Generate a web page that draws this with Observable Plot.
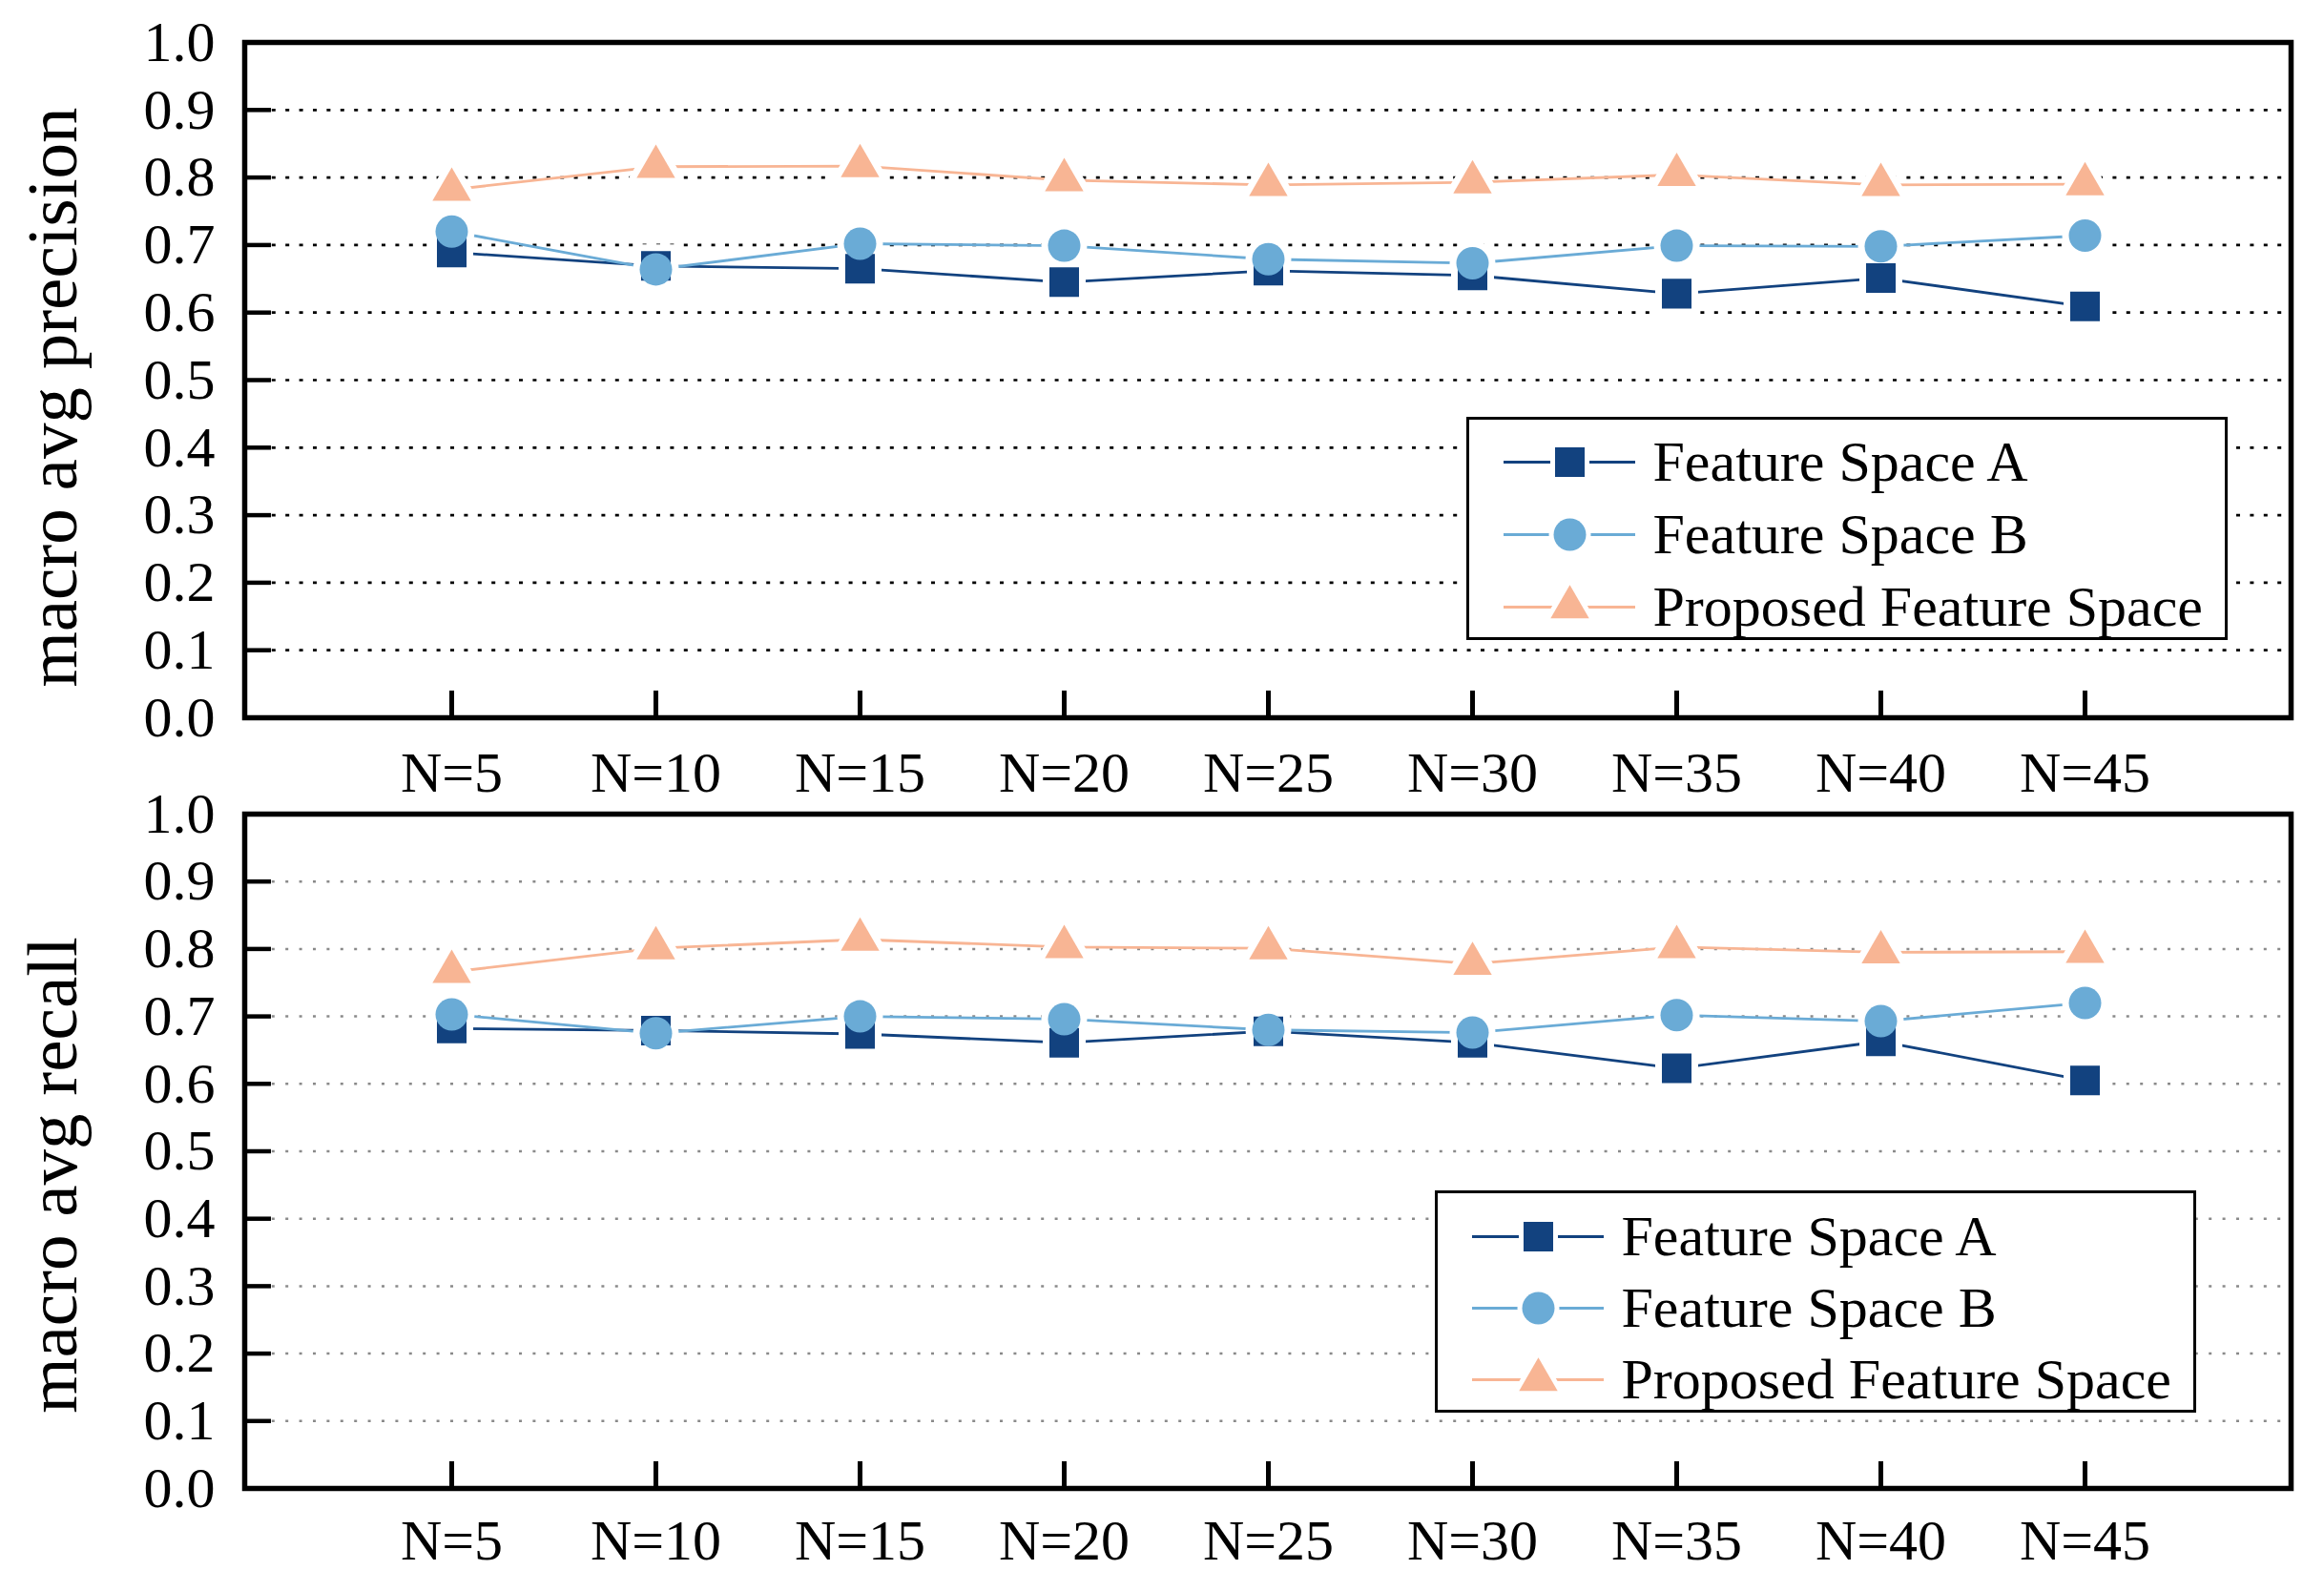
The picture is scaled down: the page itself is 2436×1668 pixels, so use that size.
<!DOCTYPE html>
<html>
<head>
<meta charset="utf-8">
<script src="https://cdn.jsdelivr.net/npm/d3@7"></script>
<script src="https://cdn.jsdelivr.net/npm/@observablehq/plot@0.6"></script>
<style>
html, body { margin: 0; padding: 0; background: #fff; }
#chart { position: relative; width: 2436px; height: 1668px; background: #fff; overflow: hidden;
  font-family: 'Liberation Serif', 'Times New Roman', serif; }
.panel { position: absolute; left: 0; }
.legend { position: absolute; box-sizing: border-box; border: 3px solid #000; background: #fff; }
.panel svg, .legend svg { display: block; }
</style>
</head>
<body>
<div id="chart"></div>
<script>
// ---- data ----
const nLabels = ["N=5", "N=10", "N=15", "N=20", "N=25", "N=30", "N=35", "N=40", "N=45"];
const seriesNames = ["Feature Space A", "Feature Space B", "Proposed Feature Space"];

const precisionA = [0.689, 0.669, 0.665, 0.645, 0.662, 0.655, 0.628, 0.651, 0.609];
const precisionB = [0.720, 0.664, 0.702, 0.699, 0.679, 0.673, 0.699, 0.698, 0.714];
const precisionP = [0.782, 0.816, 0.817, 0.796, 0.789, 0.793, 0.804, 0.789, 0.790];

const recallA = [0.682, 0.679, 0.674, 0.661, 0.678, 0.661, 0.623, 0.663, 0.605];
const recallB = [0.703, 0.675, 0.700, 0.696, 0.680, 0.676, 0.702, 0.693, 0.720];
const recallP = [0.766, 0.801, 0.814, 0.803, 0.801, 0.778, 0.803, 0.795, 0.796];

const yTicks = [0.0, 0.1, 0.2, 0.3, 0.4, 0.5, 0.6, 0.7, 0.8, 0.9, 1.0];
const gridTicks = [0.1, 0.2, 0.3, 0.4, 0.5, 0.6, 0.7, 0.8, 0.9];

// ---- styles ----
const colors = ["#12427f", "#6aabd6", "#f8b594"];
const symbols = ["square", "circle", "triangle"];
const radii = [17.5, 17, 15];
const font = "'Liberation Serif', 'Times New Roman', serif";

const W = 2436, ML = 256, MR = 35;

function panel(cfg) {
  const frameW = W - ML - MR;
  const frameH = cfg.height - cfg.marginTop - cfg.marginBottom;
  const marks = [];
  marks.push(Plot.gridY(gridTicks, {
    stroke: cfg.gridColor, strokeOpacity: 1, strokeWidth: cfg.gridWidth, strokeDasharray: cfg.gridDash
  }));
  cfg.series.forEach((vals, i) => {
    marks.push(Plot.line(vals, {
      x: (d, j) => nLabels[j], y: d => d, stroke: colors[i], strokeWidth: 2.8
    }));
  });
  // white halos leave gaps in the lines around markers
  cfg.series.forEach((vals, i) => {
    marks.push(Plot.dot(vals, {
      x: (d, j) => nLabels[j], y: d => d, symbol: symbols[i], r: radii[i],
      fill: "none", stroke: "#fff", strokeWidth: 14
    }));
  });
  cfg.series.forEach((vals, i) => {
    marks.push(Plot.dot(vals, {
      x: (d, j) => nLabels[j], y: d => d, symbol: symbols[i], r: radii[i],
      fill: colors[i], stroke: "none"
    }));
  });
  // inward ticks
  marks.push(Plot.ruleY(gridTicks, {
    y: d => d, insetRight: frameW - 28, stroke: "#000", strokeWidth: 4.5
  }));
  marks.push(Plot.ruleX(nLabels, {
    x: d => d, insetTop: frameH - 28, stroke: "#000", strokeWidth: 5
  }));
  marks.push(Plot.frame({stroke: "#000", strokeWidth: 5.5}));
  marks.push(Plot.axisY({
    ticks: yTicks, tickSize: 0, tickPadding: 31, fontSize: 60,
    tickFormat: d => d.toFixed(1), label: null
  }));
  marks.push(Plot.axisX({
    tickSize: 0, tickPadding: cfg.xPad, fontSize: 60, label: null
  }));
  marks.push(Plot.text([cfg.label], {
    text: d => d, frameAnchor: "left", rotate: -90, dx: -177, dy: cfg.labelDy,
    fontSize: 75, lineAnchor: "bottom", textAnchor: "middle"
  }));
  return Plot.plot({
    width: W, height: cfg.height,
    marginLeft: ML, marginRight: MR, marginTop: cfg.marginTop, marginBottom: cfg.marginBottom,
    x: {type: "point", domain: nLabels, padding: 1},
    y: {domain: [0, 1]},
    style: {fontFamily: font, background: "transparent", color: "#000"},
    marks
  });
}

function legend(cfg) {
  const div = document.createElement("div");
  div.className = "legend";
  div.style.left = cfg.left + "px";
  div.style.top = cfg.top + "px";
  div.style.width = cfg.width + "px";
  div.style.height = cfg.height + "px";
  const iw = cfg.width - 6, ih = cfg.height - 6;
  const marks = [];
  seriesNames.forEach((name, i) => {
    marks.push(Plot.ruleY([name], {y: d => d, stroke: colors[i], strokeWidth: 2.8}));
    marks.push(Plot.dot([name], {
      y: d => d, frameAnchor: "middle", symbol: symbols[i], r: radii[i],
      fill: colors[i], stroke: "#fff", strokeWidth: 10, paintOrder: "stroke"
    }));
  });
  marks.push(Plot.text(seriesNames, {
    y: d => d, text: d => d, frameAnchor: "right", dx: 18, textAnchor: "start",
    lineAnchor: "middle", fontSize: 60
  }));
  div.appendChild(Plot.plot({
    width: iw, height: ih,
    marginLeft: 36, marginRight: iw - 174, marginTop: cfg.rowTop, marginBottom: ih - cfg.rowBottom,
    y: {type: "point", domain: seriesNames, padding: 0, axis: null},
    style: {fontFamily: font, background: "transparent", color: "#000"},
    marks
  }));
  return div;
}

const chart = document.getElementById("chart");

// top panel: frame 44..752 (svg 0..880)
const top1 = document.createElement("div");
top1.className = "panel"; top1.style.top = "0px";
top1.appendChild(panel({
  series: [precisionA, precisionB, precisionP],
  label: "macro avg precision", labelDy: 18,
  height: 880, marginTop: 44, marginBottom: 128, xPad: 35,
  gridColor: "#000", gridWidth: 2.7, gridDash: "4,10.4"
}));
chart.appendChild(top1);

// bottom panel: frame 853..1560 (svg 780..1668)
const bot = document.createElement("div");
bot.className = "panel"; bot.style.top = "780px";
bot.appendChild(panel({
  series: [recallA, recallB, recallP],
  label: "macro avg recall", labelDy: 25,
  height: 888, marginTop: 73, marginBottom: 108, xPad: 32,
  gridColor: "#8a8a8a", gridWidth: 2.5, gridDash: "3,11.4"
}));
chart.appendChild(bot);

chart.appendChild(legend({left: 1537, top: 437, width: 798, height: 234, rowTop: 44, rowBottom: 196}));
chart.appendChild(legend({left: 1504, top: 1248, width: 798, height: 233, rowTop: 45, rowBottom: 195}));
</script>
</body>
</html>
